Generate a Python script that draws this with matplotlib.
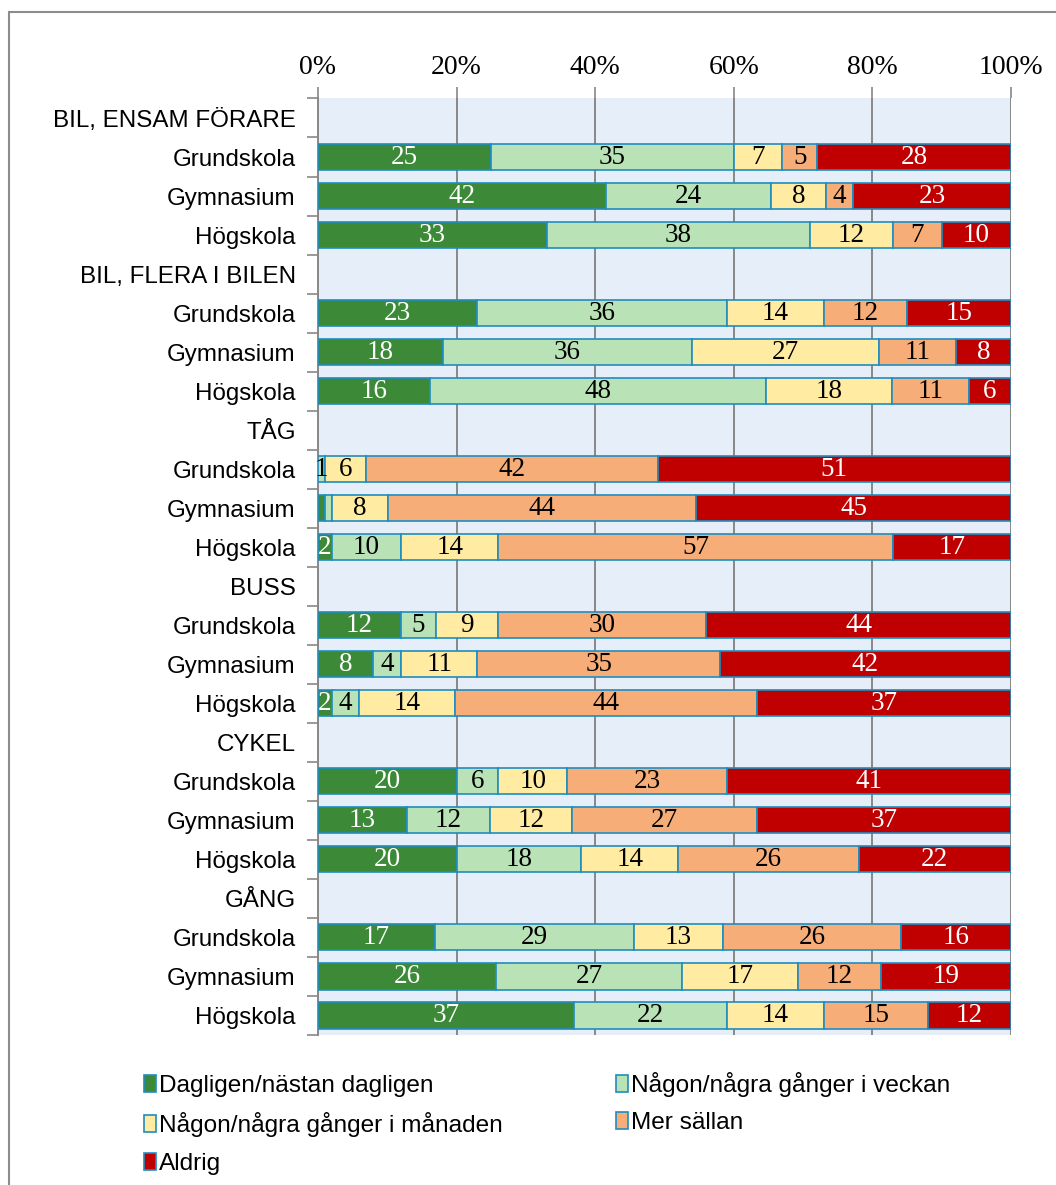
import numpy as np
import matplotlib.pyplot as plt
from matplotlib.patches import Rectangle

# radetiketter uppifrån och ned (rubrikrader saknar staplar)
row_labels = [
    "BIL, ENSAM FÖRARE", "Grundskola", "Gymnasium", "Högskola",
    "BIL, FLERA I BILEN", "Grundskola", "Gymnasium", "Högskola",
    "TÅG", "Grundskola", "Gymnasium", "Högskola",
    "BUSS", "Grundskola", "Gymnasium", "Högskola",
    "CYKEL", "Grundskola", "Gymnasium", "Högskola",
    "GÅNG", "Grundskola", "Gymnasium", "Högskola",
]
is_header = [lbl.isupper() for lbl in row_labels]

series_names = [
    "Dagligen/nästan dagligen",
    "Någon/några gånger i veckan",
    "Någon/några gånger i månaden",
    "Mer sällan",
    "Aldrig",
]

# värden per rad (None för rubrikrader), procent
daily = [None, 25, 42, 33, None, 23, 18, 16, None, 0, 1, 2, None, 12, 8, 2, None, 20, 13, 20, None, 17, 26, 37]
weekly = [None, 35, 24, 38, None, 36, 36, 48, None, 1, 1, 10, None, 5, 4, 4, None, 6, 12, 18, None, 29, 27, 22]
monthly = [None, 7, 8, 12, None, 14, 27, 18, None, 6, 8, 14, None, 9, 11, 14, None, 10, 12, 14, None, 13, 17, 14]
rarely = [None, 5, 4, 7, None, 12, 11, 11, None, 42, 44, 57, None, 30, 35, 44, None, 23, 27, 26, None, 26, 12, 15]
never = [None, 28, 23, 10, None, 15, 8, 6, None, 51, 45, 17, None, 44, 42, 37, None, 41, 37, 22, None, 16, 19, 12]

# etiketter som inte visas i originalet (rad, serie)
hidden_labels = {(10, 0), (10, 1)}

colors = ["#3C8A37", "#B9E2B6", "#FFEBA1", "#F7AD78", "#C00000"]
text_colors = ["white", "black", "black", "black", "white"]
edge_color = "#1F8DBF"

all_series = [daily, weekly, monthly, rarely, never]

fig = plt.figure(figsize=(10.56, 11.85), dpi=100)
ax = fig.add_axes([0.3011, 0.1266, 0.6563, 0.7903])
ax.set_facecolor("#E5EEF9")

n_rows = len(row_labels)
y = np.arange(n_rows)
bar_rows = [i for i in range(n_rows) if not is_header[i]]

# normalisera till 100 % staplade
data = np.array([[0 if s[i] is None else s[i] for s in all_series] for i in range(n_rows)], dtype=float)
totals = data.sum(axis=1)
totals[totals == 0] = 1
shares = data / totals[:, None] * 100

left = np.zeros(n_rows)
handles = []
for k, name in enumerate(series_names):
    vals = shares[:, k]
    bars = ax.barh(y[bar_rows], vals[bar_rows], left=left[bar_rows], height=0.67,
                   color=colors[k], edgecolor=edge_color, linewidth=1.2,
                   label=name, zorder=3)
    handles.append(bars)
    for i in bar_rows:
        if data[i, k] <= 0 or (i, k) in hidden_labels:
            continue
        ax.text(left[i] + vals[i] / 2, y[i], f"{int(data[i, k])}",
                ha="center", va="center", color=text_colors[k],
                fontsize=19.5, family="Liberation Serif", zorder=4)
    left += vals

ax.set_xlim(0, 100)
ax.set_ylim(n_rows - 0.5, -0.5)

ax.xaxis.tick_top()
ax.set_xticks([0, 20, 40, 60, 80, 100])
ax.set_xticklabels([f"{v}%" for v in [0, 20, 40, 60, 80, 100]],
                   family="Liberation Serif", fontsize=20)
ax.tick_params(axis="x", length=8, color="#888888", width=1.2, pad=5)
ax.xaxis.grid(True, color="#888888", linewidth=1.4, zorder=1)

ax.set_yticks(y)
ax.set_yticklabels(row_labels, family="Liberation Sans", fontsize=17.4)
ax.set_yticks(np.arange(n_rows + 1) - 0.5, minor=True)
ax.tick_params(axis="y", which="major", length=0, pad=16)
ax.tick_params(axis="y", which="minor", length=8, color="#888888", width=1.2)

for side in ["top", "right", "bottom"]:
    ax.spines[side].set_visible(False)
ax.spines["left"].set_color("#888888")
ax.spines["left"].set_linewidth(1.4)

# Excel fyller legenden radvis
order = [0, 2, 4, 1, 3]
leg = fig.legend([handles[i] for i in order], [series_names[i] for i in order],
                 loc="upper left", bbox_to_anchor=(0.125, 0.1055), ncol=2,
                 frameon=False, prop={"family": "Liberation Sans", "size": 17.6},
                 handlelength=0.5, handleheight=0.7, handletextpad=0.12,
                 columnspacing=4.6, labelspacing=0.62, borderpad=0)

# yttre diagramram
fig.add_artist(Rectangle((9 / 1056, -0.05), 1.1, 1 - 12 / 1185 + 0.05,
                         transform=fig.transFigure, fill=False,
                         edgecolor="#8C8C8C", linewidth=1.5))

fig.savefig("out.png", dpi=100)
